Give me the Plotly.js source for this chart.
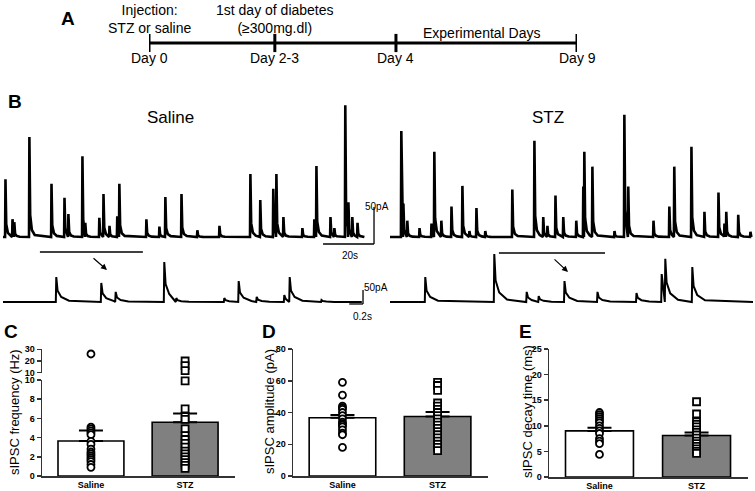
<!DOCTYPE html>
<html>
<head>
<meta charset="utf-8">
<script src="https://cdn.plot.ly/plotly-3.0.1.min.js"></script>
<style>html,body{margin:0;padding:0;background:#fff;}#chart{width:755px;height:491px;}</style>
</head>
<body>
<div id="chart"></div>
<script>
// ---------- DATA ----------
// Panel A: schematic timeline (position along the drawn line, % of its length)
const timelineDays = ['Day 0', 'Day 2-3', 'Day 4', 'Day 9'];
const timelinePos = [0, 29.4, 57.7, 100];
const timelineNotes = ['Injection:<br>STZ or saline', '1st day of diabetes<br>(≥300mg.dl)'];
const timelineSpanNote = 'Experimental Days';

// Panel B: sIPSC events (time s, amplitude pA)
const salineTopT = [0.8,3.5,4.2,10.0,18.5,23.5,25.0,30.4,31.5,36.9,38.5,40.8,43.8,44.6,55.0,60.0,62.3,68.5,74.6,83.1,95.0,98.8,103.8,105.0,107.7,115.0,119.6,120.4,125.8,127.3,131.5,132.7,134.2,136.2];
const salineTopA = [78,24,20,135,72,53,31,109,19,26,58,15,28,72,24,14,54,58,9,15,85,50,65,85,27,12,24,96,27,12,178,47,27,19];
const salineTopEnd = 139;
const stzTopT = [4.2,5.0,6.5,11.2,15.8,16.9,19.6,23.5,27.7,30.4,33.1,36.5,46.9,55.4,58.8,60.4,63.5,66.5,71.5,74.2,74.6,77.7,86.2,90.0,91.5,101.2,107.3,109.2,115.8,120.8,126.2,128.5,129.2,133.8,138.5];
const stzTopA = [143,45,22,12,18,115,22,41,69,8,39,8,64,130,27,15,56,27,22,68,115,95,8,165,68,22,41,95,122,34,60,18,34,30,7];
const stzTopEnd = 139;
const salineZoomT = [0.88,1.63,1.87,2.68,2.88,3.68,3.92,4.22,4.68,4.77,5.30];
const salineZoomA = [89,68,36,143,14,14,75,18,25,89,7];
const salineZoomEnd = 5.98;
const stzZoomT = [0.58,1.73,2.27,2.47,2.90,3.45,4.10,4.52,4.58,5.03];
const stzZoomA = [89,171,36,21,75,36,32,100,154,125];
const stzZoomEnd = 6.05;
const salineZoomWindow = [14.2, 53.8];
const stzZoomWindow = [41.9, 82.7];

// Panels C-E
const groups = ['Saline', 'STZ'];
const freqMean = [3.65, 5.6];
const freqSem = [1.1, 0.9];
const freqSaline = [26, 5.1, 4.9, 4.7, 4.5, 4.3, 3.6, 3.3, 2.8, 2.5, 2.3, 2.1, 1.9, 1.7, 1.5, 1.2, 0.9];
const freqStz = [20, 16, 11.7, 9.9, 7.0, 6.2, 5.9, 4.9, 4.2, 3.8, 3.4, 3.0, 2.6, 2.3, 2.0, 1.7, 1.4, 1.1, 0.8];
const ampMean = [36.7, 37.5];
const ampSem = [1.8, 2.8];
const ampSaline = [59, 51, 44, 43, 42, 40, 38, 36, 34, 33, 32, 31, 29, 27, 26, 18];
const ampStz = [59, 57, 54, 46, 44, 42, 40, 38, 36, 34, 32, 30, 28, 26, 24, 22, 20, 18, 16];
const decayMean = [9.0, 8.1];
const decaySem = [0.6, 0.6];
const decaySaline = [12.6, 12.2, 11.8, 11.4, 11.0, 10.6, 10.0, 9.5, 9.0, 8.5, 7.5, 7.0, 6.5, 4.4];
const decayStz = [14.7, 12.3, 10.8, 10.3, 9.8, 9.2, 8.7, 8.2, 7.6, 7.0, 6.5, 6.0, 5.5, 5.0, 4.6];

// ---------- BUILD ----------
const FONT = 'Arial, "Liberation Sans", sans-serif';
const W = 755, H = 491;
const px = v => v / W;
const py = v => 1 - v / H;

function eventTrace(T, A, tEnd, rise, decay) {
  const xs = [0], ys = [0];
  for (let i = 0; i < T.length; i++) {
    const t = T[i], a = A[i];
    const next = i + 1 < T.length ? T[i + 1] : tEnd;
    xs.push(t); ys.push(0);
    xs.push(t + rise); ys.push(a);
    for (const [d, f] of decay) {
      if (t + d < next) { xs.push(t + d); ys.push(a * f); }
    }
  }
  xs.push(tEnd); ys.push(0);
  return {xs, ys};
}
const topDecay = [[0.45, 0.22], [1.1, 0.07], [2.2, 0.02]];
const zoomDecay = [[0.03, 0.45], [0.09, 0.2], [0.22, 0.05]];

const traces = [];
// Timeline
traces.push({x: [timelinePos[0], timelinePos[timelinePos.length - 1]], y: [0, 0], xaxis: 'x', yaxis: 'y',
  mode: 'lines', line: {color: '#000', width: 3}, hoverinfo: 'skip'});
traces.push({x: timelinePos, y: timelinePos.map(() => 0), xaxis: 'x', yaxis: 'y', mode: 'markers',
  marker: {symbol: 'line-ns', size: 13, line: {color: '#000', width: 3}}, hoverinfo: 'skip'});

// Traces
const tr = [
  [salineTopT, salineTopA, salineTopEnd, 0.15, topDecay, 'x5', 'y6', 2.6],
  [stzTopT, stzTopA, stzTopEnd, 0.15, topDecay, 'x6', 'y7', 2.6],
  [salineZoomT, salineZoomA, salineZoomEnd, 0.008, zoomDecay, 'x7', 'y8', 2],
  [stzZoomT, stzZoomA, stzZoomEnd, 0.008, zoomDecay, 'x8', 'y9', 2]
];
for (const [T, A, e, r, d, xa, ya, lw] of tr) {
  const {xs, ys} = eventTrace(T, A, e, r, d);
  traces.push({x: xs, y: ys, xaxis: xa, yaxis: ya, mode: 'lines', line: {color: '#000', width: lw}, hoverinfo: 'skip'});
}

// Bar panels
function barPanel(xa, ya, mean, sem, ptsS, ptsT, yaUpper, breakAt) {
  traces.push({type: 'bar', x: groups, y: mean, xaxis: xa, yaxis: ya, width: 0.7,
    marker: {color: ['#ffffff', '#808080'], line: {color: '#000', width: 1.6}},
    error_y: {type: 'data', symmetric: false, array: sem, arrayminus: [0, 0], color: '#000', thickness: 2, width: 12},
    hoverinfo: 'skip'});
  const add = (pts, g, sym) => {
    const lo = breakAt ? pts.filter(v => v <= breakAt) : pts;
    const hi = breakAt ? pts.filter(v => v > breakAt) : [];
    const mk = {symbol: sym, size: 7, color: '#ffffff', line: {color: '#000', width: 1.8}};
    traces.push({type: 'scatter', mode: 'markers', x: lo.map(() => g), y: lo, xaxis: xa, yaxis: ya, marker: mk, hoverinfo: 'skip', cliponaxis: false});
    if (hi.length) traces.push({type: 'scatter', mode: 'markers', x: hi.map(() => g), y: hi, xaxis: xa, yaxis: yaUpper, marker: mk, hoverinfo: 'skip', cliponaxis: false});
  };
  add(ptsS, groups[0], 'circle');
  add(ptsT, groups[1], 'square');
}
barPanel('x2', 'y2', freqMean, freqSem, freqSaline, freqStz, 'y3', 10);
barPanel('x3', 'y4', ampMean, ampSem, ampSaline, ampStz);
barPanel('x4', 'y5', decayMean, decaySem, decaySaline, decayStz);

// ---------- LAYOUT ----------
const tickFont = {family: FONT, size: 9, color: '#000', weight: 'bold'};
const xCat = d => ({domain: d, type: 'category', range: [-0.52, 1.53], showline: true, linecolor: '#333', linewidth: 1.5,
  ticks: '', showgrid: false, zeroline: false, tickfont: {family: FONT, size: 9, color: '#000', weight: 'bold'}, fixedrange: true});
const yLin = (d, anchor, range, extra) => Object.assign({domain: d, anchor: anchor, range: range, showline: true, linecolor: '#333', linewidth: 1.5,
  ticks: 'outside', ticklen: 4, tickwidth: 1.5, tickcolor: '#333', showgrid: false, zeroline: false, tickfont: tickFont, fixedrange: true}, extra);
const hidden = (d, range) => ({domain: d, range: range, visible: false, showgrid: false, zeroline: false, fixedrange: true});

const layout = {
  width: W, height: H, margin: {l: 0, r: 0, t: 0, b: 0}, paper_bgcolor: '#fff', plot_bgcolor: 'rgba(0,0,0,0)',
  showlegend: false, font: {family: FONT, color: '#000'},
  xaxis: Object.assign(hidden([px(149), px(577)], [0, 100]), {anchor: 'y'}),
  yaxis: Object.assign(hidden([py(75), 1], [-32, 43]), {anchor: 'x'}),
  xaxis2: Object.assign(xCat([px(42), px(235)]), {anchor: 'y2'}),
  yaxis2: yLin([py(476), py(380)], 'x2', [0, 10], {dtick: 2}),
  yaxis3: yLin([py(372.7), py(349.3)], 'x2', [10, 30], {tickvals: [10, 20, 30]}),
  xaxis3: Object.assign(xCat([px(293), px(488)]), {anchor: 'y4'}),
  yaxis4: yLin([py(476), py(349)], 'x3', [0, 80], {dtick: 20}),
  xaxis4: Object.assign(xCat([px(549), px(748)]), {anchor: 'y5'}),
  yaxis5: yLin([py(477), py(349)], 'x4', [0, 25], {dtick: 5}),
  xaxis5: Object.assign(hidden([px(3), px(380)], [0, 145]), {anchor: 'y6'}),
  yaxis6: Object.assign(hidden([py(258), py(100)], [-28.4, 185]), {anchor: 'x5'}),
  xaxis6: Object.assign(hidden([px(390), 1], [0, 140.4]), {anchor: 'y7'}),
  yaxis7: Object.assign(hidden([py(258), py(100)], [-28.4, 185]), {anchor: 'x6'}),
  xaxis7: Object.assign(hidden([px(3), px(380)], [0, 6.283]), {anchor: 'y8'}),
  yaxis8: Object.assign(hidden([py(320), py(250)], [-64.3, 185.7]), {anchor: 'x7'}),
  xaxis8: Object.assign(hidden([px(390), 1], [0, 6.083]), {anchor: 'y9'}),
  yaxis9: Object.assign(hidden([py(320), py(250)], [-64.3, 185.7]), {anchor: 'x8'}),
  shapes: [
    // scale bars
    {type: 'line', xref: 'x5', yref: 'y6', x0: 123.1, x1: 142.7, y0: -9.5, y1: -9.5, line: {color: '#000', width: 1.3}},
    {type: 'line', xref: 'x5', yref: 'y6', x0: 142.7, x1: 142.7, y0: -9.5, y1: 40.5, line: {color: '#000', width: 1.3}},
    {type: 'line', xref: 'x7', yref: 'y8', x0: 5.77, x1: 6.0, y0: -7.1, y1: -7.1, line: {color: '#000', width: 1.3}},
    {type: 'line', xref: 'x7', yref: 'y8', x0: 6.0, x1: 6.0, y0: -7.1, y1: 42.9, line: {color: '#000', width: 1.3}},
    // zoom windows
    {type: 'line', xref: 'x5', yref: 'y6', x0: salineZoomWindow[0], x1: salineZoomWindow[1], y0: -20.3, y1: -20.3, line: {color: '#000', width: 1.4}},
    {type: 'line', xref: 'x6', yref: 'y7', x0: stzZoomWindow[0], x1: stzZoomWindow[1], y0: -21.6, y1: -21.6, line: {color: '#000', width: 1.4}}
  ],
  annotations: []
};

const ann = layout.annotations;
const txt = (text, x, y, size, opts) => ann.push(Object.assign({text: text, x: px(x), y: py(y), xref: 'paper', yref: 'paper',
  showarrow: false, xanchor: 'center', yanchor: 'middle', font: {family: FONT, size: size, color: '#000'}}, opts || {}));

// panel letters
const bold = s => ({font: {family: FONT, size: s, color: '#000', weight: 'bold'}});
txt('A', 68, 18, 19, bold(19));
txt('B', 15, 102, 19, bold(19));
txt('C', 11, 331, 19, bold(19));
txt('D', 269, 331, 19, bold(19));
txt('E', 525, 331, 19, bold(19));

// timeline labels
const tlFont = {family: FONT, size: 14, color: '#000'};
timelineDays.forEach((d, i) => ann.push({text: d, x: timelinePos[i], y: -15, xref: 'x', yref: 'y', showarrow: false, font: tlFont}));
timelineNotes.forEach((d, i) => ann.push({text: d, x: timelinePos[i], y: 24, xref: 'x', yref: 'y', showarrow: false, font: tlFont}));
ann.push({text: timelineSpanNote, x: (timelinePos[2] + timelinePos[3]) / 2 - 1, y: 10, xref: 'x', yref: 'y', showarrow: false, font: tlFont});

// panel B texts
txt('Saline', 170, 117, 17);
txt('STZ', 548, 117, 17);
txt('50pA', 363, 206, 10, {xanchor: 'left'});
txt('20s', 350, 256, 10);
txt('50pA', 362, 287, 10, {xanchor: 'left'});
txt('0.2s', 362, 316, 10);
// arrows
ann.push({text: '', x: px(107), y: py(270), xref: 'paper', yref: 'paper', showarrow: true, ax: -15, ay: -13,
  arrowhead: 2, arrowsize: 1, arrowwidth: 1.2, arrowcolor: '#000'});
ann.push({text: '', x: px(568), y: py(272), xref: 'paper', yref: 'paper', showarrow: true, ax: -15, ay: -14,
  arrowhead: 2, arrowsize: 1, arrowwidth: 1.2, arrowcolor: '#000'});

// y titles
txt('sIPSC frequency (Hz)', 14, 412, 13, {textangle: -90});
txt('sIPSC amplitude (pA)', 269, 412, 13, {textangle: -90});
txt('sIPSC decay time (ms)', 527, 412, 13, {textangle: -90});

Plotly.newPlot('chart', traces, layout, {staticPlot: true, displayModeBar: false});
</script>
</body>
</html>
